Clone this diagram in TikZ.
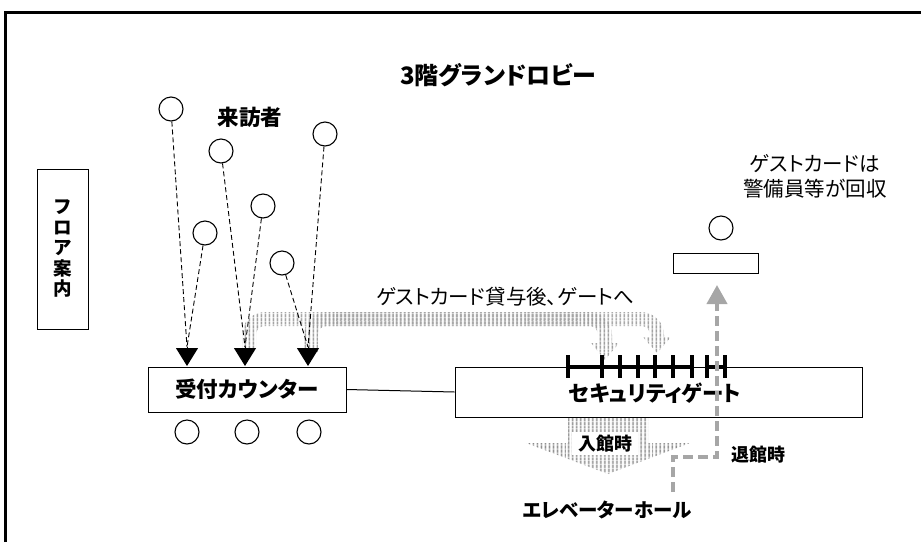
\documentclass[tikz,border=0pt]{standalone}
\usepackage{fontspec}
\setmainfont{Noto Sans CJK JP}[RawFeature=+palt]
\usetikzlibrary{arrows.meta,patterns.meta}
\tikzset{
  person/.style={circle,draw,line width=1.1pt,minimum size=24pt,inner sep=0pt},
  framebox/.style={draw,line width=1pt,inner sep=0pt},
  lbl/.style={font=\bfseries\fontsize{21.5}{25}\selectfont,inner sep=0pt},
  titlefont/.style={font=\bfseries\fontsize{24}{28}\selectfont,inner sep=0pt},
  txt/.style={font=\fontsize{20.5}{25}\selectfont,inner sep=0pt},
  visit/.style={dash pattern=on 5pt off 3pt,line width=0.9pt},
  bighead/.style={-{Triangle[width=22pt,length=18pt]},line width=1pt},
  stripes/.style={pattern={Lines[angle=90,distance=4pt,line width=2pt]},pattern color=black!38},
  darkstripes/.style={pattern={Lines[angle=90,distance=4pt,line width=2pt]},pattern color=black!48},
  exitpath/.style={line width=4pt,draw=black!35,dash pattern=on 10pt off 5pt},
  gatetick/.style={line width=3.2pt},
}
\begin{document}
\begin{tikzpicture}[x=1pt,y=-1pt]
\useasboundingbox (0,0) rectangle (921,542);
% outer frame (cut by the page)
\draw[line width=3pt] (5,542) -- (5,12) -- (921,12);

\node[titlefont] (title) at (498,75) {3階グランドロビー};
\node[lbl] (visitors) at (250,117) {来訪者};

% floor guide
\node[framebox,minimum width=51pt,minimum height=160pt,align=center,
      font=\bfseries\fontsize{18.5}{20.5}\selectfont] (floor) at (63,249) {フ\\ロ\\ア\\案\\内};

% gray striped arrows (card handed over, to the gates)
\path[stripes] (242,352) -- (242,335) .. controls (242,322.3) and (252.3,312) .. (265,312)
  -- (589,312) .. controls (601.7,312) and (612,322.3) .. (612,335) -- (612,343) -- (619,343)
  -- (605,360) -- (591,343) -- (598,343) -- (598,335) .. controls (598,329.5) and (594.5,326) .. (589,326)
  -- (265,326) .. controls (259.5,326) and (256,329.5) .. (256,335) -- (256,352) -- cycle;
\path[stripes] (304,352) -- (304,335) .. controls (304,322.3) and (314.3,312) .. (327,312)
  -- (641,312) .. controls (653.7,312) and (664,322.3) .. (664,335) -- (664,337) -- (671,337)
  -- (657,353) -- (643,337) -- (650,337) -- (650,335) .. controls (650,329.5) and (646.5,326) .. (641,326)
  -- (327,326) .. controls (321.5,326) and (318,329.5) .. (318,335) -- (318,352) -- cycle;
\node[txt] (lend) at (505,297) {ゲストカード貸与後、ゲートへ};

% visitors
\node[person] (v1) at (171,109) {};
\node[person] (v2) at (221,151) {};
\node[person] (v3) at (325,134) {};
\node[person] (v4) at (263,206) {};
\node[person] (v5) at (205,233) {};
\node[person] (v6) at (282,263) {};

% counter
\node[framebox,lbl,minimum width=198pt,minimum height=45pt] (counter) at (247,389.5) {受付カウンター};
\node[person] (c1) at (187,432) {};
\node[person] (c2) at (247,432) {};
\node[person] (c3) at (309,432) {};

\coordinate (a1) at (187,347); \coordinate (t1) at (187,366);
\coordinate (a2) at (245,347); \coordinate (t2) at (245,366);
\coordinate (a3) at (308,347); \coordinate (t3) at (308,366);
\draw[visit] (v1) -- (a1);
\draw[visit] (v5) -- (a1);
\draw[visit] (v2) -- (a2);
\draw[visit] (v4) -- (a2);
\draw[visit] (v6) -- (a3);
\draw[visit] (v3) -- (a3);
\draw[bighead] (a1) -- (t1);
\draw[bighead] (a2) -- (t2);
\draw[bighead] (a3) -- (t3);

% security gate
\node[framebox,minimum width=407pt,minimum height=50pt] (gate) at (658.5,392) {};
\draw[line width=1pt] (counter.east) -- (gate.west);
\node[lbl] (gatelabel) at (655,393) {セキュリティゲート};
\foreach \x in {568,602,620,638,655,673,692,707,725}
  \draw[gatetick] (\x,355) -- (\x,378);
\draw[gatetick] (568,367) -- (692,367);
\draw[gatetick] (707,367) -- (725,367);

% entering arrow
\path[darkstripes] (568,418) -- (648,418) -- (648,443) -- (690,443) -- (608,474) -- (526,443) -- (568,443) -- cycle;
\node[fill=white,inner sep=0pt,minimum width=66pt,minimum height=23pt,
      font=\bfseries\fontsize{18}{20}\selectfont] (enter) at (605,443.5) {入館時};

% guard desk
\node[person] (guard) at (721,228) {};
\node[framebox,minimum width=85pt,minimum height=20pt] (desk) at (715.5,263) {};
\node[txt,align=center] (note) at (815,176) {ゲストカードは\\警備員等が回収};

% exit path
\coordinate (e0) at (673,492);
\coordinate (e1) at (673,457);
\coordinate (e2) at (717,457);
\coordinate (e3) at (717,285);
\draw[exitpath,-{Triangle[width=20pt,length=19pt]}] (e0) -- (e1) -- (e2) -- (e3);
\node[font=\bfseries\fontsize{18}{20}\selectfont,inner sep=0pt] (leave) at (758,455) {退館時};

\node[font=\bfseries\fontsize{19.5}{22}\selectfont,inner sep=0pt] (hall) at (607,510) {エレベーターホール};
\end{tikzpicture}
\end{document}
